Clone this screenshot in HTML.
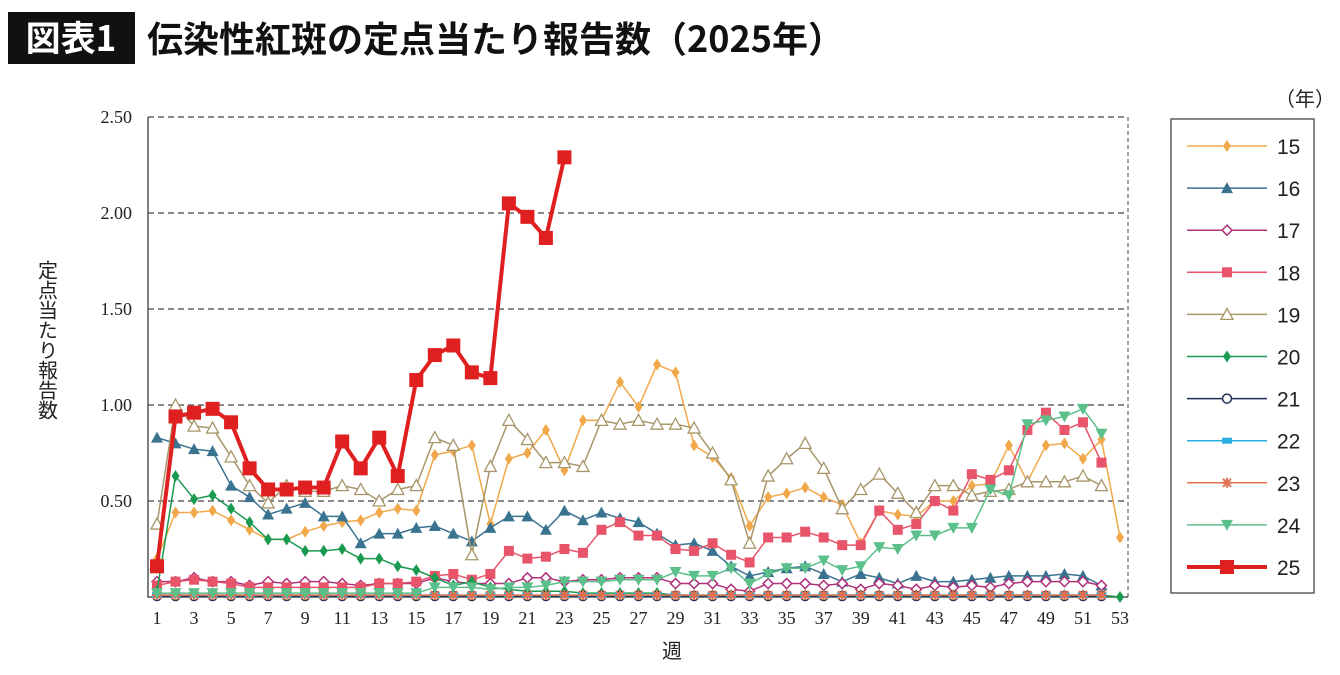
<!DOCTYPE html>
<html><head><meta charset="utf-8"><style>
body{margin:0;background:#fff;width:1340px;height:670px;overflow:hidden;font-family:"Liberation Sans","Noto Sans CJK JP",sans-serif}
</style></head><body>
<svg id="chart" width="1340" height="670" xmlns="http://www.w3.org/2000/svg">
<rect x="8" y="12" width="127" height="52" fill="#111"/>
<text x="71" y="51" text-anchor="middle" fill="#fff" font-size="35" font-weight="bold" font-family="'Noto Sans CJK JP',sans-serif">図表1</text>
<text x="147" y="52" fill="#111" font-size="36" font-weight="bold" font-family="'Noto Sans CJK JP',sans-serif">伝染性紅斑の定点当たり報告数（2025年）</text>
<g id="grid"></g><g id="series"></g><g id="legend"></g>
<text x="1305" y="106" text-anchor="middle" font-size="20" fill="#222" font-family="'Noto Sans CJK JP',sans-serif">（年）</text>
<text x="672" y="658" text-anchor="middle" font-size="20" fill="#222" font-family="'Noto Sans CJK JP',sans-serif">週</text>
<text x="48" y="260" font-size="20" fill="#222" font-family="'Noto Sans CJK JP',sans-serif" style="writing-mode:vertical-rl">定点当たり報告数</text>
</svg>
<script>
const weeks = Array.from({length:53},(_,i)=>i+1);
const yTicks = [0.5,1.0,1.5,2.0,2.5];
const yTickLabels = ["0.50","1.00","1.50","2.00","2.50"];
const xTickLabels = [1,3,5,7,9,11,13,15,17,19,21,23,25,27,29,31,33,35,37,39,41,43,45,47,49,51,53];
const s15 = [.2,.44,.44,.45,.40,.35,.30,.30,.34,.37,.39,.40,.44,.46,.45,.74,.76,.79,.38,.72,.75,.87,.66,.92,.92,1.12,.99,1.21,1.17,.79,.73,.62,.37,.52,.54,.57,.52,.48,.28,.45,.43,.42,.50,.50,.58,.59,.79,.60,.79,.80,.72,.82,.31];
const s16 = [.83,.80,.77,.76,.58,.52,.43,.46,.49,.42,.42,.28,.33,.33,.36,.37,.33,.29,.36,.42,.42,.35,.45,.40,.44,.41,.39,.33,.27,.28,.24,.16,.11,.13,.15,.16,.12,.08,.12,.10,.07,.11,.08,.08,.09,.10,.11,.11,.11,.12,.11,.06];
const s17 = [.08,.08,.10,.08,.08,.06,.08,.07,.08,.08,.07,.06,.07,.07,.07,.10,.08,.07,.07,.07,.10,.10,.08,.09,.09,.10,.10,.10,.07,.07,.07,.04,.03,.07,.07,.07,.06,.07,.04,.07,.06,.04,.06,.05,.06,.05,.07,.08,.08,.08,.08,.06];
const s18 = [.06,.08,.09,.08,.07,.05,.05,.05,.05,.05,.05,.05,.07,.07,.08,.11,.12,.09,.12,.24,.20,.21,.25,.23,.35,.39,.32,.32,.25,.24,.28,.22,.18,.31,.31,.34,.31,.27,.27,.45,.35,.38,.50,.45,.64,.61,.66,.87,.96,.87,.91,.70];
const s19 = [.38,1.0,.89,.88,.73,.58,.49,.58,.55,.55,.58,.56,.50,.56,.58,.83,.79,.22,.68,.92,.82,.70,.70,.68,.92,.90,.92,.90,.90,.88,.75,.61,.28,.63,.72,.80,.67,.46,.56,.64,.54,.44,.58,.58,.53,.55,.56,.60,.60,.60,.63,.58];
const s20 = [.03,.63,.51,.53,.46,.39,.30,.30,.24,.24,.25,.20,.20,.16,.14,.10,.06,.08,.05,.04,.03,.03,.03,.02,.02,.02,.02,.02,.01,.01,.01,.01,.01,.01,.01,.01,.01,.01,.01,.01,.01,.01,.01,.01,.01,.01,.01,.01,.01,.01,.01,.01,0];
const s21 = Array(52).fill(0.005);
const s22 = Array(52).fill(0.01);
const s23 = Array(52).fill(0.01);
const s24 = [.02,.02,.02,.02,.02,.02,.02,.02,.02,.02,.02,.02,.02,.02,.02,.05,.05,.05,.04,.05,.05,.06,.08,.08,.08,.09,.09,.09,.13,.11,.11,.15,.07,.12,.15,.15,.19,.14,.16,.26,.25,.32,.32,.36,.36,.56,.53,.90,.92,.94,.98,.85];
const s25 = [.16,.94,.96,.98,.91,.67,.56,.56,.57,.57,.81,.67,.83,.63,1.13,1.26,1.31,1.17,1.14,2.05,1.98,1.87,2.29];
const seriesNames=["15","16","17","18","19","20","21","22","23","24","25"];
const seriesData=[s15,s16,s17,s18,s19,s20,s21,s22,s23,s24,s25];
const styles=[["#f0a84a","diamond",1],["#3a7390","tri",1],["#b0307a","odiamond",1],["#e8556a","square",1],["#a8966a","otri",1],["#1a9a50","diamond",1],["#1e2e55","circle",1],["#2ab0e0","rect",1],["#e07050","star",1],["#5cc08a","dtri",1],["#e02020","bigsq",4]];
const X=w=>157+(w-1)*(1120-157)/52, Y=v=>597-v*192;
const NS="http://www.w3.org/2000/svg";
function mk(t,a,p){const e=document.createElementNS(NS,t);for(const k in a)e.setAttribute(k,a[k]);p.appendChild(e);return e;}
const grid=document.getElementById('grid');
yTicks.forEach((t,i)=>{const g=mk('line',{x1:148,x2:1128,y1:Y(t),y2:Y(t),stroke:'#444','stroke-dasharray':'6,4','stroke-width':1.2},grid);


const l=mk('text',{x:132,y:Y(t)+6,'text-anchor':'end','font-size':18,fill:'#222','font-family':'Liberation Serif,serif'},grid);l.textContent=yTickLabels[i];

});
const r=mk('line',{x1:1128,x2:1128,y1:117,y2:597,stroke:'#444','stroke-dasharray':'4,3'},grid);


const ax=mk('path',{d:'M148 117V597H1128',stroke:'#555',fill:'none','stroke-width':1.5},grid);


xTickLabels.forEach(w=>{const l=mk('text',{x:X(w),y:624,'text-anchor':'middle','font-size':18,fill:'#222','font-family':'Liberation Serif,serif'},grid);l.textContent=w;

});
function marker(type,x,y,c,p,sc){sc=sc||1;let e;
switch(type){
case 'diamond':e=mk('path',{d:`M${x} ${y-6*sc}L${x+4*sc} ${y}L${x} ${y+6*sc}L${x-4*sc} ${y}Z`,fill:c},p);break;
case 'odiamond':e=mk('path',{d:`M${x} ${y-5}L${x+5} ${y}L${x} ${y+5}L${x-5} ${y}Z`,fill:'#fff',stroke:c,'stroke-width':1.5},p);break;
case 'tri':e=mk('path',{d:`M${x} ${y-6}L${x+6} ${y+5}L${x-6} ${y+5}Z`,fill:c},p);break;
case 'otri':e=mk('path',{d:`M${x} ${y-6}L${x+6} ${y+5}L${x-6} ${y+5}Z`,fill:'#fff',stroke:c,'stroke-width':1.3},p);break;
case 'dtri':e=mk('path',{d:`M${x} ${y+6}L${x+6} ${y-5}L${x-6} ${y-5}Z`,fill:c},p);break;
case 'square':e=mk('rect',{x:x-5,y:y-5,width:10,height:10,fill:c},p);break;
case 'bigsq':e=mk('rect',{x:x-7,y:y-7,width:14,height:14,fill:c},p);break;
case 'circle':e=mk('circle',{cx:x,cy:y,r:4.5,fill:'#fff',stroke:c,'stroke-width':1.5},p);break;
case 'rect':e=mk('rect',{x:x-5,y:y-3,width:10,height:6,fill:c},p);break;
case 'star':e=mk('path',{d:`M${x-5} ${y}H${x+5}M${x} ${y-5}V${y+5}M${x-4} ${y-4}L${x+4} ${y+4}M${x+4} ${y-4}L${x-4} ${y+4}`,stroke:c,'stroke-width':2},p);break;}
return e;}
const sg=document.getElementById('series');
seriesData.forEach((d,i)=>{const [c,m,w]=styles[i];const g=mk('g',{},sg);


const pl=mk('polyline',{points:d.map((v,j)=>X(weeks[j])+','+Y(v)).join(' '),fill:'none',stroke:c,'stroke-width':w===4?4:1.5,'stroke-linejoin':'round'},g);


d.forEach((v,j)=>{const e=marker(m,X(weeks[j]),Y(v),c,g);

});});
const lg=document.getElementById('legend');
const box=mk('rect',{x:1171,y:119,width:143,height:474,fill:'none',stroke:'#444','stroke-width':1.3},lg);


seriesNames.forEach((n,i)=>{const y=146+i*42.1;const [c,m,w]=styles[i];const g=mk('g',{},lg);


mk('line',{x1:1187,x2:1267,y1:y,y2:y,stroke:c,'stroke-width':w===4?4:1.5},g);
marker(m,1227,y,c,g);
const t=mk('text',{x:1277,y:y+8,'font-size':21,fill:'#222'},g);t.textContent=n;});
</script>
</body></html>
